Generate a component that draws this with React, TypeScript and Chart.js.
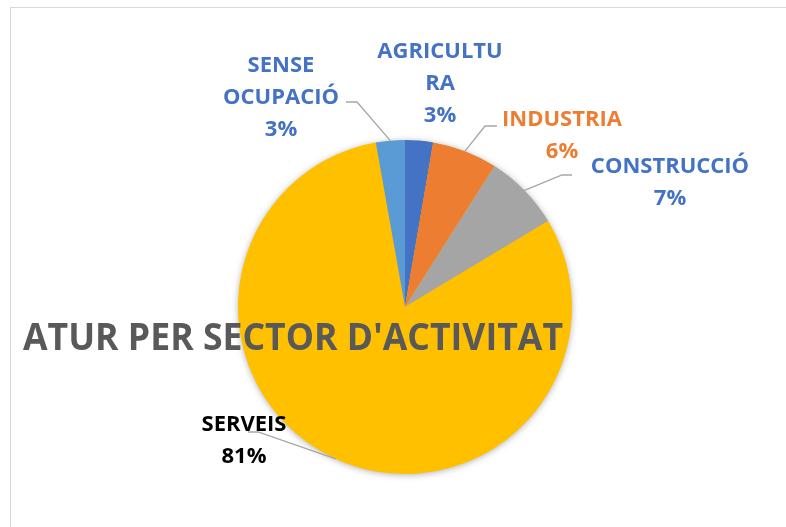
import React, { useEffect, useRef } from "react";
import { Chart, registerables } from "chart.js";

Chart.register(...registerables);

const categories = ["AGRICULTURA", "INDUSTRIA", "CONSTRUCCIÓ", "SERVEIS", "SENSE OCUPACIÓ"];
const labelLines = [["AGRICULTU", "RA"], ["INDUSTRIA"], ["CONSTRUCCIÓ"], ["SERVEIS"], ["SENSE", "OCUPACIÓ"]];
const values = [2.7, 6.3, 7.4, 80.8, 2.8];
const sliceColors = ["#4472C4", "#ED7D31", "#A5A5A5", "#FFC000", "#5B9BD5"];
const labelColors = ["#4472C4", "#ED7D31", "#4472C4", "#000000", "#4472C4"];
const chartTitle = "ATUR PER SECTOR D'ACTIVITAT";

// label layout (first-line baseline, center x), leader end & elbow
const labelLayout = [
  { cx: 440, by: 58, leader: null },
  { cx: 562, by: 126, leader: { ex: 497, ey: 126, kx: 485 } },
  { cx: 670, by: 173, leader: { ex: 572, ey: 175, kx: 562 } },
  { cx: 244, by: 431, leader: { ex: 248, ey: 432, kx: 258 } },
  { cx: 281, by: 72, leader: { ex: 346, ey: 102, kx: 357 } },
];
const LINE_H = 32;
const LABEL_FONT = 'bold 22px "Open Sans"';
const LABEL_SX = 1.0;

const shadowPlugin = {
  id: "pieShadow",
  beforeDatasetsDraw(chart: any) {
    const arc = chart.getDatasetMeta(0).data[0];
    if (!arc) return;
    const ctx = chart.ctx;
    ctx.save();
    ctx.shadowColor = "rgba(0,0,0,0.35)";
    ctx.shadowBlur = 7;
    ctx.shadowOffsetX = 0;
    ctx.shadowOffsetY = 1;
    ctx.fillStyle = "#FFC000";
    ctx.beginPath();
    ctx.arc(arc.x, arc.y, arc.outerRadius - 0.5, 0, Math.PI * 2);
    ctx.fill();
    ctx.restore();
  },
};

const labelPlugin = {
  id: "outLabels",
  afterDatasetsDraw(chart: any) {
    const ctx = chart.ctx;
    const meta = chart.getDatasetMeta(0);
    const data = chart.data.datasets[0].data as number[];
    const total = data.reduce((a, b) => a + b, 0);
    ctx.save();
    // leaders
    ctx.strokeStyle = "#A6A6A6";
    ctx.lineWidth = 1.3;
    meta.data.forEach((arc: any, i: number) => {
      const lay = labelLayout[i];
      if (!lay.leader) return;
      const mid = (arc.startAngle + arc.endAngle) / 2;
      const px = arc.x + Math.cos(mid) * arc.outerRadius;
      const py = arc.y + Math.sin(mid) * arc.outerRadius;
      ctx.beginPath();
      ctx.moveTo(px, py);
      ctx.lineTo(lay.leader.kx, lay.leader.ey);
      ctx.lineTo(lay.leader.ex, lay.leader.ey);
      ctx.stroke();
    });
    // labels
    ctx.font = LABEL_FONT;
    ctx.textAlign = "center";
    ctx.textBaseline = "alphabetic";
    meta.data.forEach((_arc: any, i: number) => {
      const lay = labelLayout[i];
      const lines = [...labelLines[i], Math.round((data[i] / total) * 100) + "%"];
      ctx.fillStyle = labelColors[i];
      lines.forEach((t, j) => {
        ctx.save();
        ctx.translate(lay.cx, lay.by + j * LINE_H);
        ctx.scale(LABEL_SX, 1);
        ctx.fillText(t, 0, 0);
        ctx.restore();
      });
    });
    // title over the pie
    ctx.font = 'bold 38px "Open Sans"';
    ctx.fillStyle = "#595959";
    ctx.textAlign = "left";
    const w = ctx.measureText(chartTitle).width;
    const target = 540;
    ctx.save();
    ctx.translate(23, 350);
    ctx.scale(target / w, 1);
    ctx.fillText(chartTitle, 0, 0);
    ctx.restore();
    ctx.restore();
  },
};

export default function App() {
  const ref = useRef<HTMLCanvasElement | null>(null);
  useEffect(() => {
    if (!ref.current) return;
    const chart = new Chart(ref.current, {
      type: "pie",
      data: {
        labels: categories,
        datasets: [
          {
            data: values,
            backgroundColor: sliceColors,
            borderWidth: 0,
          },
        ],
      },
      options: {
        responsive: false,
        animation: false,
        layout: { padding: { left: 238, right: 214, top: 140, bottom: 53 } },
        plugins: {
          legend: { display: false },
          tooltip: { enabled: false },
          title: { display: false },
        },
      },
      plugins: [shadowPlugin, labelPlugin],
    });
    return () => chart.destroy();
  }, []);
  return (
    <div style={{ position: "fixed", left: 0, top: 0, width: 786, height: 527, background: "#fff", overflow: "hidden" }}>
      <div
        style={{
          position: "absolute",
          left: 10,
          top: 7,
          width: 800,
          height: 540,
          border: "1.5px solid #D9D9D9",
        }}
      />
      <canvas ref={ref} width={786} height={527} style={{ position: "absolute", left: 0, top: 0, width: 786, height: 527 }} />
    </div>
  );
}
